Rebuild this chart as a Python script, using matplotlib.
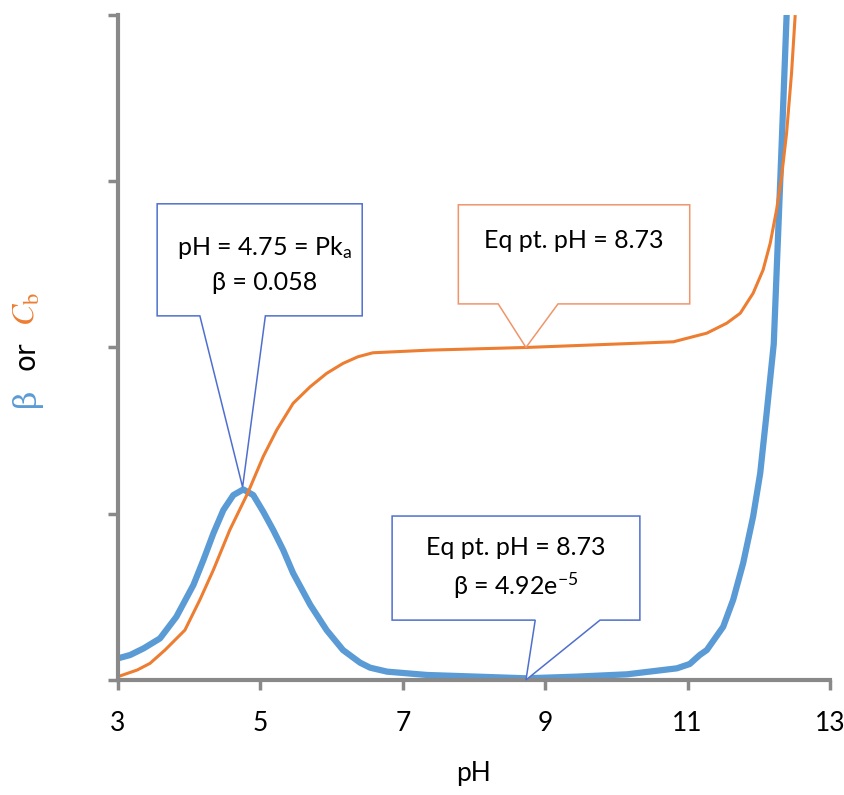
import matplotlib
matplotlib.use("Agg")
import matplotlib.pyplot as plt
from matplotlib.patches import Polygon

plt.rcParams['font.family'] = ['Lato', 'DejaVu Sans']
plt.rcParams['mathtext.default'] = 'regular'

# buffer capacity (beta)
beta_ph = [3.0, 3.17, 3.36, 3.59, 3.82, 4.06, 4.20, 4.34, 4.48, 4.62, 4.76, 4.90,
           5.04, 5.18, 5.32, 5.46, 5.70, 5.93, 6.16, 6.40, 6.54, 6.78, 7.34, 8.04,
           8.73, 9.44, 10.15, 10.85, 11.03, 11.17, 11.27, 11.50, 11.64, 11.78,
           11.92, 12.02, 12.11, 12.21, 12.30, 12.34, 12.39]
beta_val = [0.0065, 0.0075, 0.0095, 0.0125, 0.019, 0.0286, 0.0361, 0.0441, 0.0511,
            0.0556, 0.0573, 0.0556, 0.0506, 0.0451, 0.0391, 0.0321, 0.0226, 0.0150,
            0.0090, 0.0052, 0.0037, 0.0025, 0.0015, 0.0010, 0.0005, 0.0010, 0.0017,
            0.0035, 0.0048, 0.0075, 0.0090, 0.0160, 0.0241, 0.0351, 0.0491, 0.0622,
            0.0802, 0.101, 0.1494, 0.1714, 0.1995]

# base concentration C_b
cb_ph = [3.0, 3.27, 3.45, 3.66, 3.94, 4.15, 4.34, 4.57, 4.82, 5.04, 5.23, 5.46,
         5.70, 5.93, 6.16, 6.37, 6.58, 7.38, 8.74, 10.33, 10.80, 11.27, 11.55,
         11.74, 11.92, 12.06, 12.16, 12.25, 12.32, 12.39, 12.46, 12.51]
cb_val = [0.0010, 0.0030, 0.0050, 0.0090, 0.0150, 0.0241, 0.0331, 0.0451, 0.0561,
          0.0672, 0.0752, 0.0832, 0.0882, 0.0922, 0.0952, 0.0972, 0.0984, 0.0992,
          0.1000, 0.1013, 0.1017, 0.1043, 0.1073, 0.1103, 0.1163, 0.1233, 0.1313,
          0.1414, 0.1514, 0.1644, 0.1825, 0.1995]

x_ticks = [3, 5, 7, 9, 11, 13]

# callouts: text, text centre, tip (pH, value), box (left, right, bottom, top), pointer base, colour
callouts = [
    ("pH = 4.75 = Pk$_a$\n\u03b2 = 0.058", (5.06, 0.1251), (4.75, 0.058),
     (3.55, 6.43, 0.1095, 0.1432), (4.15, 5.07), '#4f6fcf'),
    ("Eq pt. pH = 8.73", (9.40, 0.1323), (8.73, 0.100),
     (7.78, 11.03, 0.1131, 0.1429), (8.34, 9.18), '#f0956a'),
    ("Eq pt. pH = 8.73\n\u03b2 = 4.92e$^{-5}$", (8.58, 0.0335), (8.73, 0.0),
     (6.85, 10.33, 0.018, 0.0493), (8.86, 9.77), '#4f6fcf'),
]

blue = '#5b9bd5'
orange = '#ed7d31'
grey = '#898989'

fig = plt.figure(figsize=(8.44, 7.95), dpi=100)
ax = fig.add_axes([0.1398, 0.1447, 0.8436, 0.8365])

ax.plot(beta_ph, beta_val, color=blue, lw=4.5, solid_joinstyle='round', zorder=2)
ax.plot(cb_ph, cb_val, color=orange, lw=2.2, solid_joinstyle='round', zorder=2.5)

ax.set_xlim(3, 13)
ax.set_ylim(0, 0.2)
ax.set_xticks(x_ticks)
ax.set_yticks([0, 0.05, 0.1, 0.15, 0.2])
ax.set_yticklabels([])
for s in ['top', 'right']:
    ax.spines[s].set_visible(False)
for s in ['left', 'bottom']:
    ax.spines[s].set_color(grey)
    ax.spines[s].set_linewidth(3)
ax.tick_params(axis='both', color=grey, width=2.5, length=7, direction='out')
ax.tick_params(axis='x', labelsize=19, pad=15)
ax.set_xlabel("pH", fontsize=19, labelpad=18)

for txt, (cx, cy), (tx, ty), (l, r, b, t), (b0, b1), col in callouts:
    pts = [(l, t), (r, t), (r, b), (b1, b), (tx, ty), (b0, b), (l, b)]
    ax.add_patch(Polygon(pts, closed=True, facecolor='white', edgecolor=col,
                         lw=1.1, zorder=4, clip_on=False))
    ax.text(cx, cy, txt, ha='center', va='center', fontsize=18,
            linespacing=1.5, zorder=5)

# rotated y label in three colours
ax.text(-0.128, 0.425, "\u03b2", color=blue, rotation=90, ha='center', va='center',
        fontsize=23, family='DejaVu Serif', transform=ax.transAxes)
ax.text(-0.128, 0.487, "or", color='black', rotation=90, ha='center', va='center',
        fontsize=20, family='DejaVu Sans', transform=ax.transAxes)
ax.text(-0.128, 0.557, "$\\mathit{C}_{\\mathrm{b}}$", color=orange, rotation=90,
        ha='center', va='center', fontsize=23, family='DejaVu Serif',
        math_fontfamily='stix', transform=ax.transAxes)

fig.savefig('out.png', dpi=100)
